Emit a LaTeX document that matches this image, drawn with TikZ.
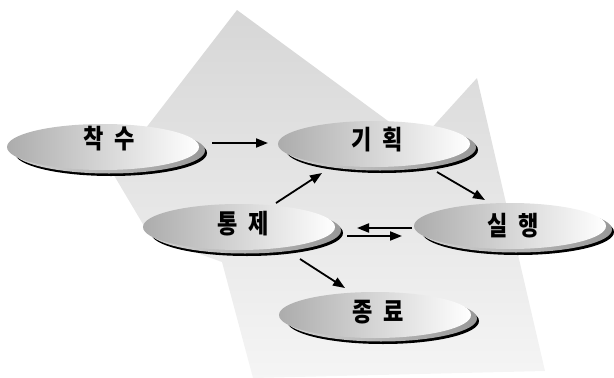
\documentclass[tikz,border=0pt]{standalone}
\usepackage{fontspec}
\newfontfamily\kr{Noto Sans CJK KR}
\usetikzlibrary{arrows.meta,calc,shapes.geometric}
\newcommand\pmdisc[6]{% name, x, y (outer centre), text, text dx, text dy
  \fill[black] (#2+4,#3+3) ellipse (96pt and 23pt);
  \shade[left color=gray!35,right color=gray!80] (#2+2,#3+0.5) ellipse (96pt and 23pt);
  \shade[left color=gray!65,right color=white] (#2-4,#3-3) ellipse (96pt and 23pt);
  \node[disc] (#1) at (#2,#3) {};
  \node[lbl] (#1-t) at (#2+#5,#3+#6) {\scalebox{0.92}[1.1]{#4}};
}
\begin{document}
\begin{tikzpicture}[x=1pt,y=-1pt,
  arr/.style={line width=1.8pt,-{Triangle[length=12pt,width=9pt]}},
  disc/.style={ellipse,minimum width=200pt,minimum height=52pt,inner sep=0pt},
  lbl/.style={font=\kr\bfseries\fontsize{24}{24}\selectfont,inner sep=0pt}]
\useasboundingbox (0,0) rectangle (614,378);
\shade[top color=gray!32,bottom color=gray!8]
  (237,10) -- (112,172) -- (150,236) -- (222,262) -- (253,378) -- (545,371)
  -- (477,78) -- (418,143) -- cycle;
\pmdisc{chak}{107}{150}{착\hspace{11pt}수}{2}{-11}
\pmdisc{gihoek}{378}{147}{기\hspace{11pt}획}{-1}{-7}
\pmdisc{silhaeng}{514}{229}{실\hspace{11pt}행}{-1}{-3}
\pmdisc{tongje}{243}{230}{통\hspace{11pt}제}{0}{-6}
\pmdisc{jongryo}{379}{318}{종\hspace{11pt}료}{-1}{-6}
\draw[arr] ($(chak)+(105,-7)$) -- ($(gihoek)+(-110,-4)$);
\draw[arr] ($(tongje)+(33,-27)$) -- ($(gihoek)+(-56,26)$);
\draw[arr] ($(gihoek)+(59,25)$) -- ($(silhaeng)+(-29,-29)$);
\draw[arr] ($(tongje)+(104,6)$) -- ($(silhaeng)+(-112,7)$);
\draw[arr] ($(silhaeng)+(-102,-1)$) -- ($(tongje)+(114,-2)$);
\draw[arr] ($(tongje)+(57,29)$) -- ($(jongryo)+(-34,-30)$);
\end{tikzpicture}
\end{document}
